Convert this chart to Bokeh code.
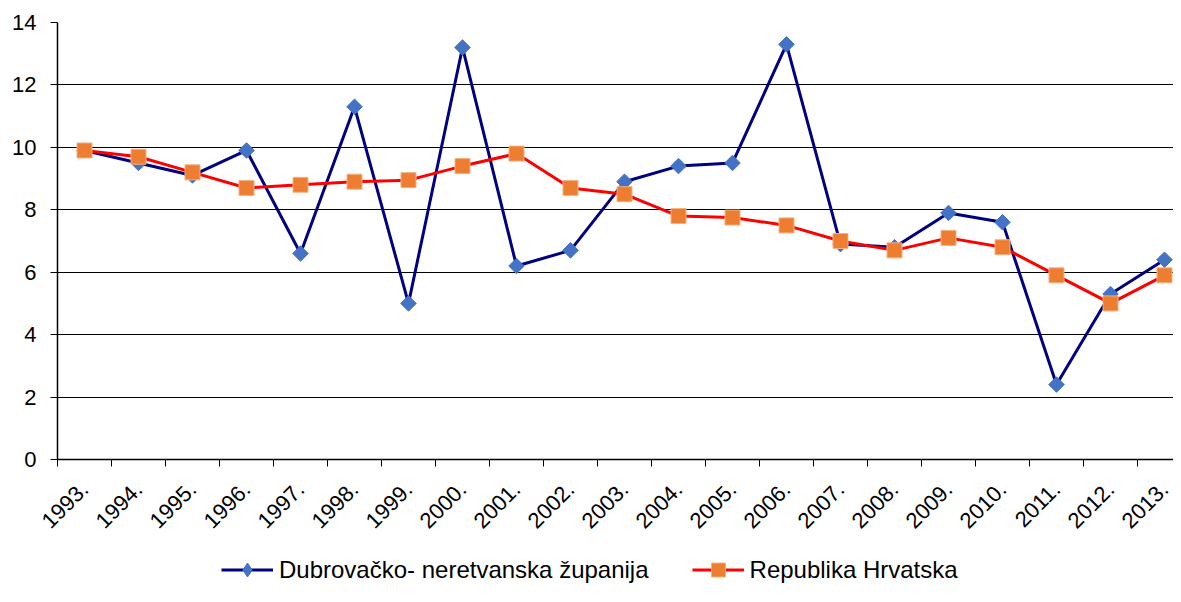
import math
from bokeh.plotting import figure
from bokeh.layouts import column
from bokeh.models import FixedTicker, Legend, LegendItem, ColumnDataSource
from bokeh.embed import file_html
from bokeh.resources import INLINE

years = ["1993.", "1994.", "1995.", "1996.", "1997.", "1998.", "1999.", "2000.",
         "2001.", "2002.", "2003.", "2004.", "2005.", "2006.", "2007.", "2008.",
         "2009.", "2010.", "2011.", "2012.", "2013."]
dubrovnik = [9.9, 9.5, 9.1, 9.9, 6.6, 11.3, 5.0, 13.2, 6.2, 6.7, 8.9, 9.4, 9.5,
             13.3, 6.9, 6.8, 7.9, 7.6, 2.4, 5.3, 6.4]
croatia = [9.9, 9.7, 9.2, 8.7, 8.8, 8.9, 8.95, 9.4, 9.8, 8.7, 8.5, 7.8, 7.75,
           7.5, 7.0, 6.7, 7.1, 6.8, 5.9, 5.0, 5.9]
y_ticks = [0, 2, 4, 6, 8, 10, 12, 14]
name_dub = "Dubrovačko- neretvanska županija"
name_cro = "Republika Hrvatska"

FONT = "Liberation Sans"
DUB_LINE, DUB_MARK = "#000080", "#4472C4"
CRO_LINE, CRO_MARK, CRO_EDGE = "#FF0000", "#ED7D31", "#F4B183"
n = len(years)
xs = [i + 0.5 for i in range(n)]
cat_px = 54.0
W = 1173
frame_w = W - 57

src = ColumnDataSource(dict(x=xs, dub=dubrovnik, cro=croatia))

p = figure(width=W, height=540, output_backend="svg", toolbar_location=None,
           x_range=(0, frame_w / cat_px), y_range=(0, 14),
           min_border_left=57, min_border_top=22, min_border_right=0,
           min_border_bottom=81)
p.outline_line_color = None
p.background_fill_color = "white"
p.border_fill_color = "white"

# y axis
p.yaxis.ticker = FixedTicker(ticks=y_ticks)
p.yaxis.axis_line_color = "black"
p.yaxis.axis_line_width = 1.5
p.yaxis.major_tick_out = 7
p.yaxis.major_tick_in = 0
p.yaxis.major_tick_line_color = "black"
p.yaxis.minor_tick_line_color = None
p.yaxis.major_label_text_font = FONT
p.yaxis.major_label_text_font_size = "22px"
p.yaxis.major_label_text_color = "black"
p.yaxis.major_label_standoff = 14

# x axis: labels at category centres, tick marks at boundaries
p.xaxis.ticker = FixedTicker(ticks=xs, minor_ticks=list(range(n + 1)))
p.xaxis.major_label_overrides = {x: lab for x, lab in zip(xs, years)}
p.xaxis.major_tick_line_color = None
p.xaxis.major_tick_out = 0
p.xaxis.major_tick_in = 0
p.xaxis.minor_tick_line_color = "black"
p.xaxis.minor_tick_out = 7
p.xaxis.minor_tick_in = 0
p.xaxis.axis_line_color = "black"
p.xaxis.axis_line_width = 1.5
p.xaxis.major_label_orientation = math.pi / 4
p.xaxis.major_label_text_font = FONT
p.xaxis.major_label_text_font_size = "22px"
p.xaxis.major_label_text_color = "black"
p.xaxis.major_label_standoff = 19

p.xgrid.grid_line_color = None
p.ygrid.grid_line_color = "black"
p.ygrid.grid_line_width = 1

p.line("x", "dub", source=src, line_color=DUB_LINE, line_width=3)
p.scatter("x", "dub", source=src, marker="square", angle=math.pi / 4,
          size=11, fill_color=DUB_MARK, line_color=DUB_MARK)
p.line("x", "cro", source=src, line_color=CRO_LINE, line_width=3)
p.scatter("x", "cro", source=src, marker="square", size=15,
          fill_color=CRO_MARK, line_color=CRO_EDGE, line_width=1)

# legend strip below the chart: same series drawn in a range where the
# marks fall outside the strip, so only the legend is visible
q = figure(width=W, height=46, output_backend="svg", toolbar_location=None,
           min_border=0, x_axis_location=None, y_axis_location=None,
           x_range=p.x_range, y_range=(100, 101))
q.outline_line_color = None
q.xgrid.grid_line_color = None
q.ygrid.grid_line_color = None
ql1 = q.line("x", "dub", source=src, line_color=DUB_LINE, line_width=3)
qm1 = q.scatter("x", "dub", source=src, marker="diamond",
                fill_color=DUB_MARK, line_color=DUB_MARK)
ql2 = q.line("x", "cro", source=src, line_color=CRO_LINE, line_width=3)
qm2 = q.scatter("x", "cro", source=src, marker="square",
                fill_color=CRO_MARK, line_color=CRO_EDGE, line_width=1)
legend = Legend(items=[LegendItem(label=name_dub, renderers=[ql1, qm1]),
                       LegendItem(label=name_cro, renderers=[ql2, qm2])],
                orientation="horizontal", location=(164, -1),
                glyph_width=52, glyph_height=35, label_height=35,
                label_standoff=6, spacing=43, padding=0, margin=0,
                label_text_font=FONT, label_text_font_size="24px",
                label_text_color="black",
                border_line_color=None, background_fill_alpha=0)
q.add_layout(legend, "center")

layout = column(p, q, spacing=0)
open("out.html", "w").write(file_html(layout, INLINE))
